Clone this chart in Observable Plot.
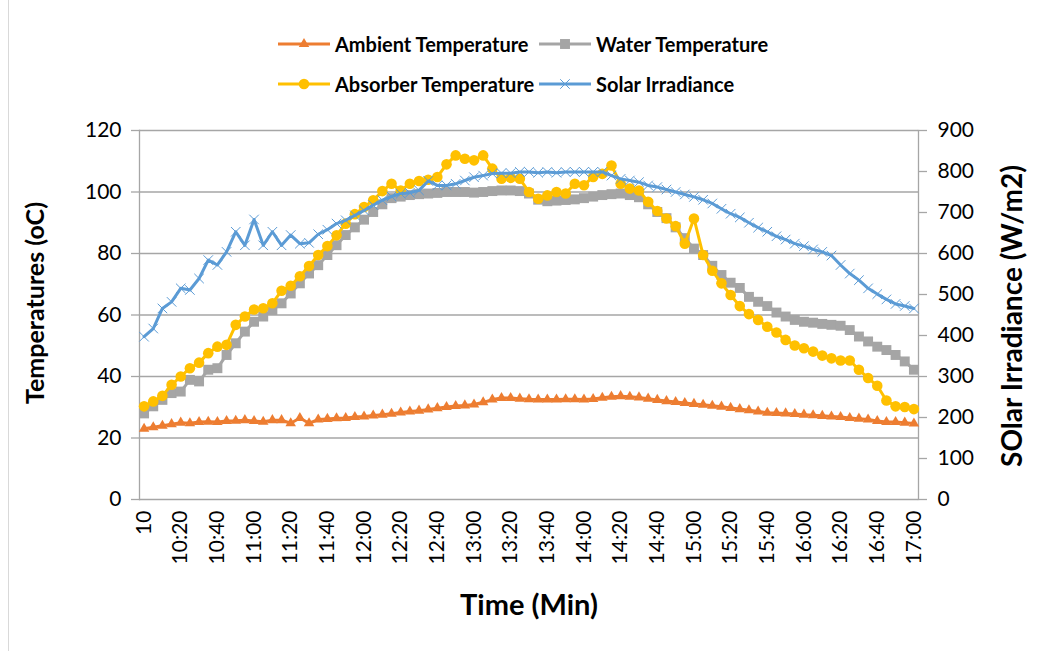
<!DOCTYPE html>
<html><head><meta charset="utf-8">
<script src="https://cdn.jsdelivr.net/npm/d3@7"></script>
<script src="https://cdn.jsdelivr.net/npm/@observablehq/plot@0.6"></script>
<style>
body{margin:0;background:#fff;font-family:Lato,sans-serif;}
#wrap{position:relative;width:1039px;height:651px;overflow:hidden;}
#legend{position:relative;height:110px;}
.item{position:absolute;display:flex;align-items:center;font-weight:bold;font-size:20px;color:#000;white-space:nowrap;}
.item svg{margin-right:4px;}
#border{position:absolute;left:8px;top:-2px;width:1100px;height:800px;border:1px solid #d9d9d9;pointer-events:none;}
</style></head><body>
<div id="wrap"><div id="border"></div><div id="legend"></div><div id="chart"></div></div>
<script>
// ---- data ----
const xTickLabels = ["10","10:20","10:40","11:00","11:20","11:40","12:00","12:20","12:40","13:00","13:20","13:40","14:00","14:20","14:40","15:00","15:20","15:40","16:00","16:20","16:40","17:00"];
const times = d3.range(85).map(i => { const m = 600 + 5 * i; return Math.floor(m / 60) + ":" + String(m % 60).padStart(2, "0"); });
const xTickValues = times.filter((t, i) => i % 4 === 0);

const ambient = [23,23.5,24,24.5,25,24.8,25.2,25.3,25.2,25.5,
  25.6,25.8,25.5,25.3,25.8,25.8,24.8,26.5,24.8,26,
  26.2,26.4,26.5,26.8,27,27.3,27.6,27.9,28.3,28.6,
  28.9,29.3,29.7,30.1,30.4,30.6,30.9,31.6,32.5,33,
  33,32.8,32.6,32.5,32.5,32.5,32.6,32.6,32.5,32.7,
  33.1,33.4,33.6,33.4,33.2,32.8,32.4,32,31.7,31.4,
  31.1,30.8,30.5,30.2,29.8,29.4,29,28.6,28.2,28.1,
  28,27.8,27.6,27.4,27.2,27,26.8,26.5,26.3,26,
  25.5,25.2,25.2,25,24.7];
const water = [28,30.3,32.4,34.6,35.1,38.9,38.4,42.2,42.7,47,
  50.8,54.6,57.8,59.5,61.6,63.8,67,70.3,73.5,76.2,
  79.5,82.7,86,88.5,91,93.5,96,98,98.5,99,
  99.3,99.5,99.7,100,100,100,99.8,100,100.3,100.5,
  100.5,100.3,99.5,97.5,97,97.2,97.4,97.6,98,98.5,
  99,99.3,99.5,99,98.3,96,93.5,91.5,88.5,85,
  81.6,79.5,76,73,70.5,68.8,65.9,64.3,62.9,60.8,
  59.5,58.4,57.8,57.5,57.1,56.8,56.5,55.1,53,51.4,
  49.7,48.6,47,44.9,42.2];
const absorber = [30.3,31.9,33.7,37.3,40,42.7,44.5,47.6,49.7,50.3,
  56.8,59.5,61.8,62.2,63.8,67.9,69.5,72.6,75.9,79.5,
  82.4,85.9,89.7,92.8,95.1,97.3,100.3,102.7,100.5,102.7,
  103.6,104,104.9,109,111.9,110.8,110.3,111.9,107.6,104.3,
  104.6,104.3,100,97.8,98.9,100,99.5,102.7,102.2,104.9,
  105.9,108.6,102.7,101.1,100.5,96.8,93.8,91.4,88.9,83.2,
  91.4,79.5,74.4,70.3,66.5,62.9,60.3,58.4,56.2,54.3,
  51.9,50.1,49.2,48.1,46.8,45.9,45.2,45.2,42.2,39.5,
  37,32.2,30.3,30.1,29.4];
const solar = [397,417,466,482,515,511,539,584,572,604,
  653,620,683,620,653,620,645,624,626,647,
  658,673,681,693,705,718,730,739,746,748,
  754,777,766,766,770,778,786,790,795,796,
  796,799,799,797,799,797,799,799,799,799,
  799,790,782,778,774,766,762,756,750,744,
  738,731,722,709,697,688,675,663,653,642,
  634,624,618,610,604,595,572,551,535,515,
  501,488,477,472,466];
const leftTicks = [0,20,40,60,80,100,120];
const rightTicks = [0,100,200,300,400,500,600,700,800,900];

const series = [
  {name:"Ambient Temperature", key:"ambient", color:"#ED7D31", symbol:"triangle"},
  {name:"Water Temperature", key:"water", color:"#A5A5A5", symbol:"square"},
  {name:"Absorber Temperature", key:"absorber", color:"#FFC000", symbol:"circle"},
  {name:"Solar Irradiance", key:"solar", color:"#5B9BD5", symbol:"times"}
];

// ---- build ----
const k = 120 / 900; // secondary axis -> primary axis
const data = times.map((t, i) => ({t, ambient: ambient[i], water: water[i], absorber: absorber[i], solarScaled: solar[i] * k}));
const labelOf = new Map(xTickValues.map((t, i) => [t, xTickLabels[i]]));
const GRID = "#a6a6a6";
const R = {triangle: 3.9, square: 5.6, circle: 5.3, times: 4.4};

const chart = Plot.plot({
  width: 1039, height: 541,
  marginTop: 20, marginBottom: 152, marginLeft: 139, marginRight: 121,
  style: {fontFamily: "Lato, sans-serif", fontSize: "21px", color: "#000", background: "transparent", overflow: "visible"},
  x: {type: "point", domain: times, padding: 0.5, round: false},
  y: {domain: [0, 120]},
  marks: [
    Plot.gridY(leftTicks, {stroke: GRID, strokeOpacity: 1, strokeWidth: 1.3}),
    Plot.axisY(leftTicks, {anchor: "left", tickSize: 8, tickPadding: 10, stroke: GRID, strokeWidth: 1.3, label: null}),
    Plot.axisY(rightTicks.map(v => v * k), {anchor: "right", tickSize: 8, tickPadding: 11, stroke: GRID, strokeWidth: 1.3, tickFormat: d => String(Math.round(d / k)), label: null}),
    Plot.frame({anchor: "left", stroke: GRID, strokeWidth: 1.3}),
    Plot.frame({anchor: "right", stroke: GRID, strokeWidth: 1.3}),
    Plot.axisX(xTickValues, {anchor: "bottom", tickSize: 0, tickPadding: 11, tickRotate: -90, tickFormat: d => labelOf.get(d), label: null}),
    Plot.line(data, {x: "t", y: "ambient", stroke: "#ED7D31", strokeWidth: 3}),
    Plot.dot(data, {x: "t", y: "ambient", symbol: "triangle", fill: "#ED7D31", r: R.triangle}),
    Plot.line(data, {x: "t", y: "water", stroke: "#A5A5A5", strokeWidth: 3}),
    Plot.dot(data, {x: "t", y: "water", symbol: "square", fill: "#A5A5A5", r: R.square}),
    Plot.line(data, {x: "t", y: "absorber", stroke: "#FFC000", strokeWidth: 3}),
    Plot.dot(data, {x: "t", y: "absorber", symbol: "circle", fill: "#FFC000", r: R.circle}),
    Plot.line(data, {x: "t", y: "solarScaled", stroke: "#5B9BD5", strokeWidth: 3}),
    Plot.dot(data, {x: "t", y: "solarScaled", symbol: "times", stroke: "#5B9BD5", strokeWidth: 1, r: R.times}),
    Plot.text(["Temperatures (oC)"], {text: d => d, frameAnchor: "left", textAnchor: "middle", lineAnchor: "middle", dx: -104, dy: -12, rotate: -90, fontSize: 25, fontWeight: "bold"}),
    Plot.text(["SOlar Irradiance (W/m2)"], {text: d => d, frameAnchor: "right", textAnchor: "middle", lineAnchor: "middle", dx: 95, dy: 1, rotate: -90, fontSize: 28, fontWeight: "bold"}),
    Plot.text(["Time (Min)"], {text: d => d, frameAnchor: "bottom", textAnchor: "middle", lineAnchor: "middle", dy: 106, fontSize: 29, fontWeight: "bold"})
  ]
});
document.getElementById("chart").appendChild(chart);

// ---- legend ----
const legendPos = [[277, 44], [538, 44], [277, 84], [538, 84]];
const leg = d3.select("#legend");
series.forEach((s, j) => {
  const [lx, ly] = legendPos[j];
  const item = leg.append("div").attr("class", "item").style("left", lx + "px").style("top", (ly - 12) + "px").style("height", "24px");
  const svg = item.append("svg").attr("width", 54).attr("height", 24);
  svg.append("line").attr("x1", 1).attr("x2", 53).attr("y1", 12).attr("y2", 12).attr("stroke", s.color).attr("stroke-width", 3);
  const sym = {triangle: d3.symbolTriangle, square: d3.symbolSquare, circle: d3.symbolCircle, times: d3.symbolTimes}[s.symbol];
  const size = Math.PI * R[s.symbol] * R[s.symbol];
  const p = svg.append("path").attr("d", d3.symbol(sym, size)()).attr("transform", "translate(27,12)");
  if (s.symbol === "times") p.attr("fill", "none").attr("stroke", s.color).attr("stroke-width", 1);
  else p.attr("fill", s.color);
  item.append("span").text(s.name);
});
</script>
</body></html>
